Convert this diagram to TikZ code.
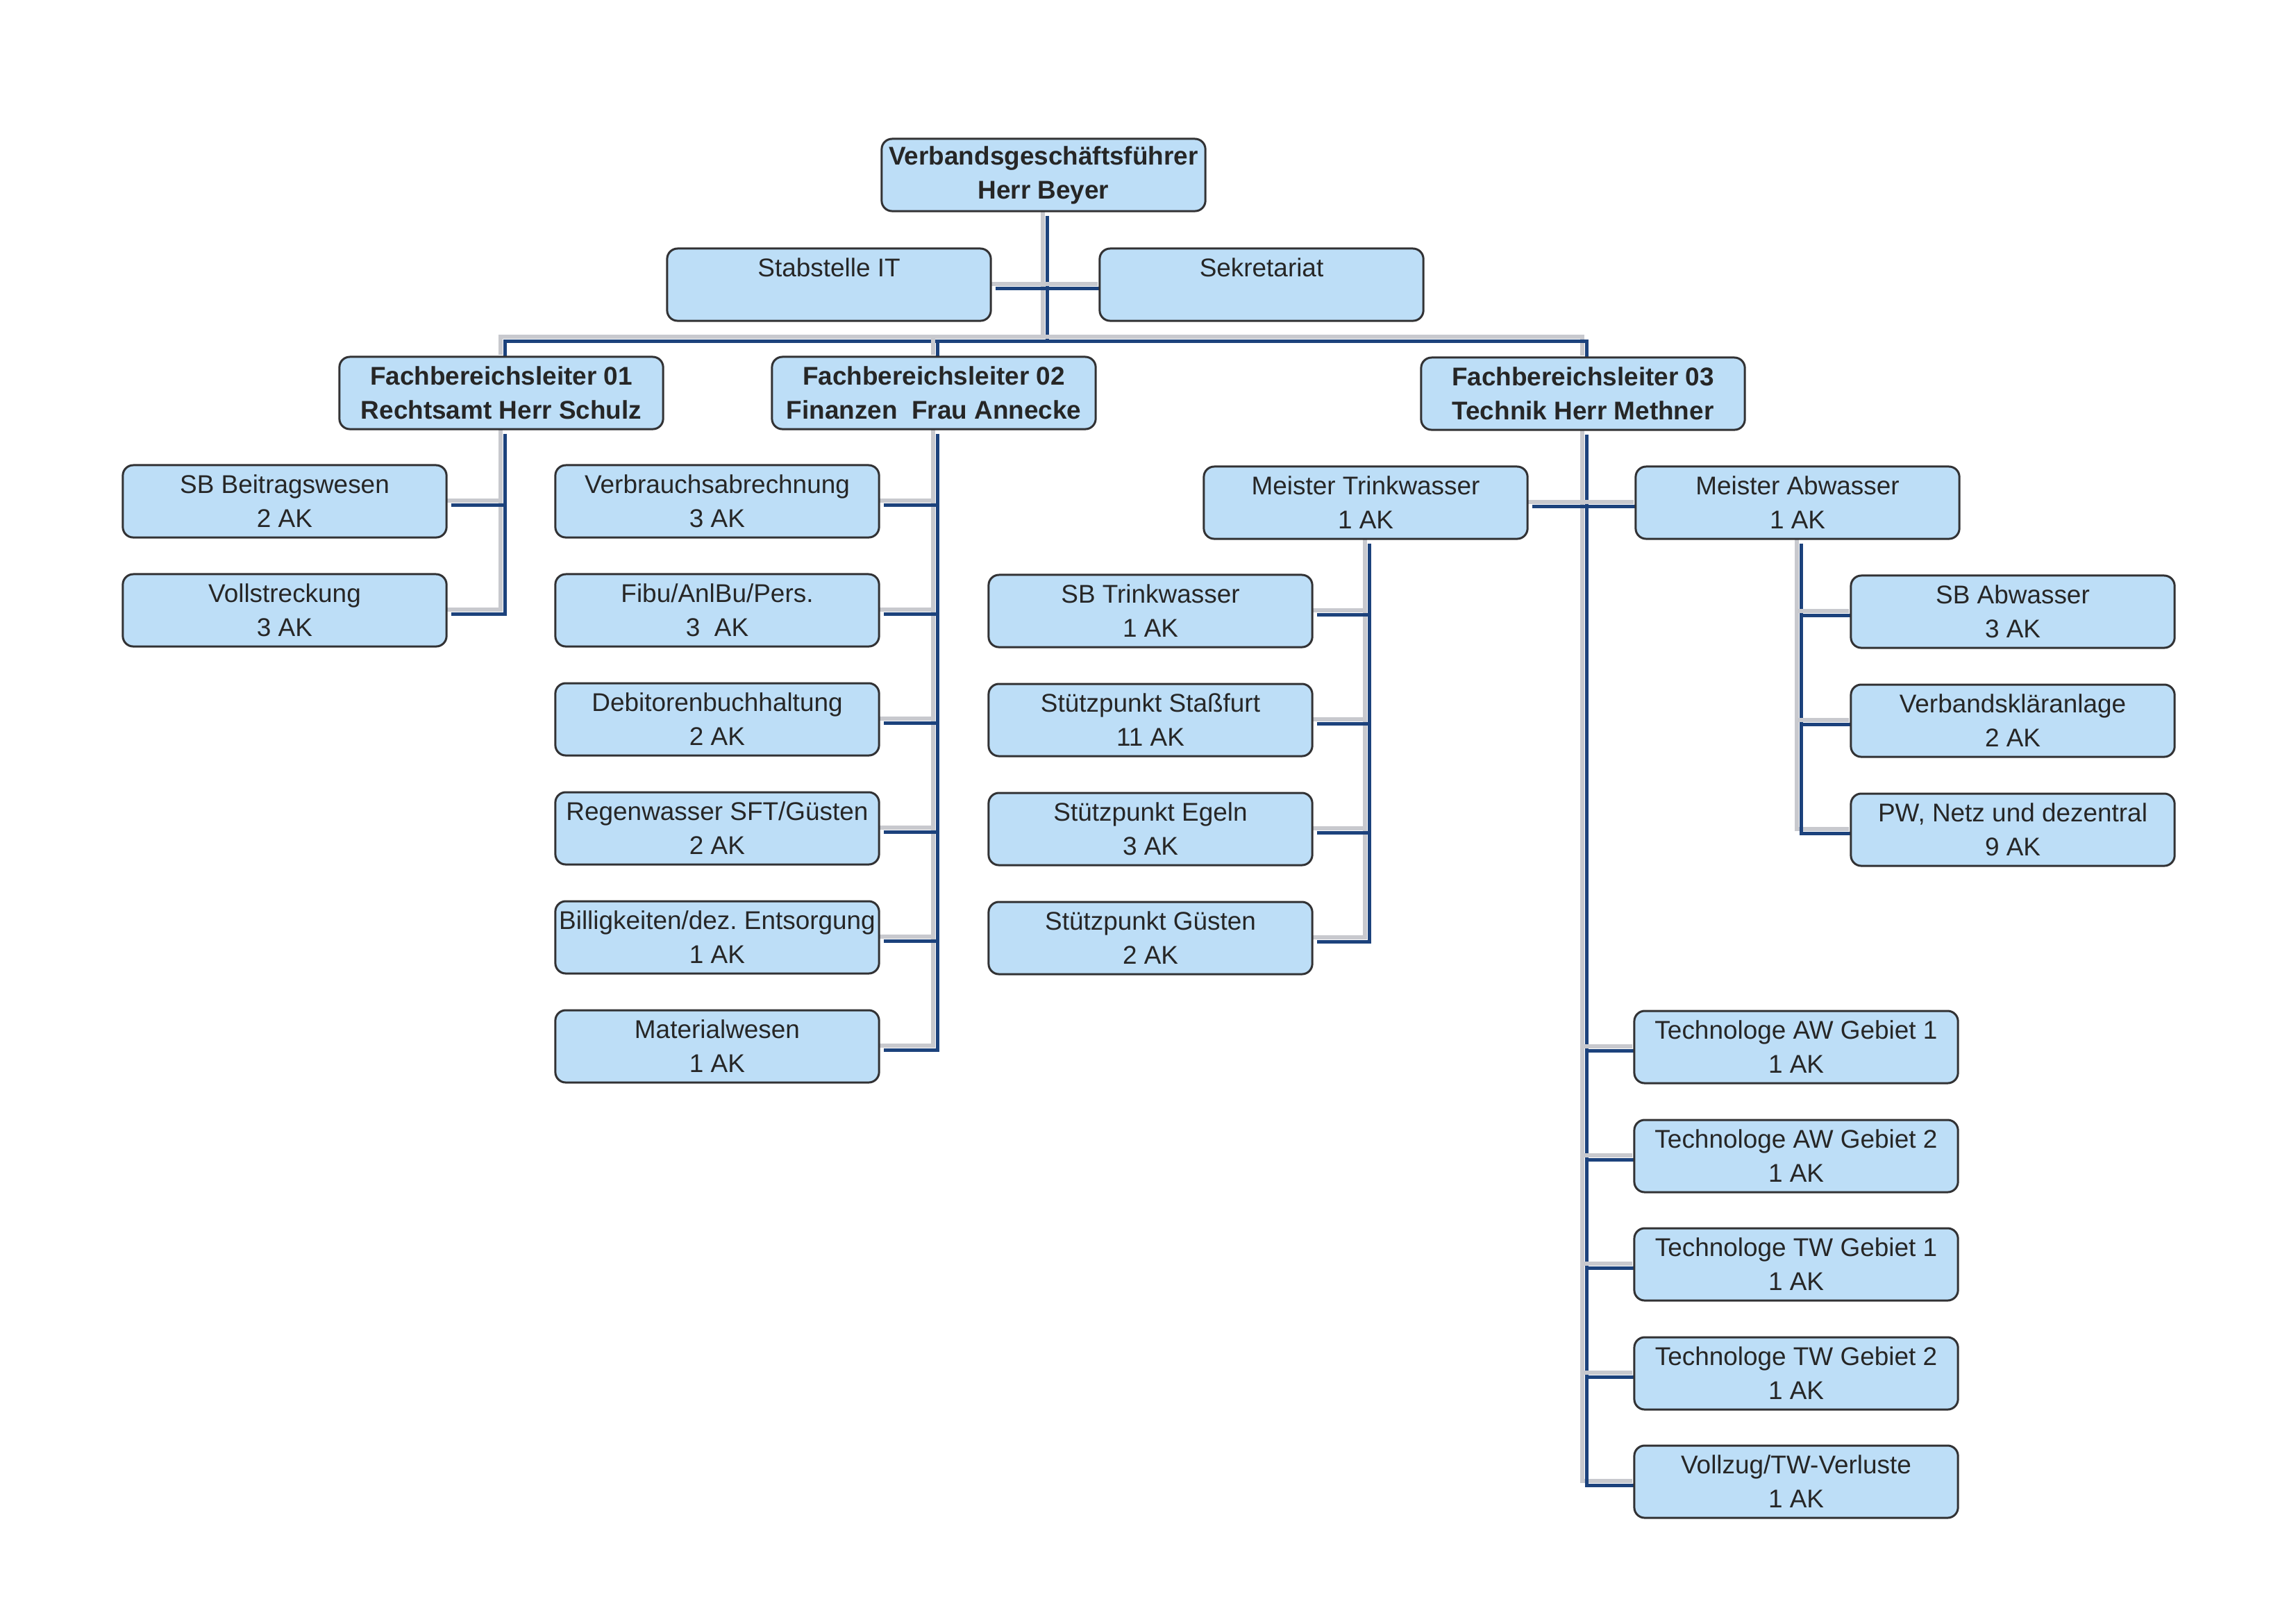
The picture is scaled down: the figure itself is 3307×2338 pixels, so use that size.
\documentclass[tikz,border=0pt]{standalone}
\usepackage{fontspec}
\setmainfont{Liberation Sans}
\frenchspacing
\pgfdeclarelayer{bg}
\pgfsetlayers{bg,main}
\definecolor{boxfill}{RGB}{189,222,247}
\definecolor{boxline}{RGB}{50,50,52}
\definecolor{txt}{RGB}{38,38,38}
\definecolor{connblue}{RGB}{28,66,124}
\definecolor{shadowgrey}{RGB}{200,201,206}
\tikzset{
  box/.style={draw=boxline, line width=0.03cm, fill=boxfill, rounded corners=0.15cm,
    minimum width=4.66cm, minimum height=1.04cm, inner sep=0pt, align=center,
    text=txt, font=\fontsize{10.5}{13.9}\selectfont},
  bbox/.style={box, font=\bfseries\fontsize{10.5}{13.9}\selectfont},
  conn/.style={
    preaction={draw=shadowgrey, line width=0.06cm,
      transform canvas={xshift=-0.01cm, yshift=0.01cm}},
    preaction={draw=connblue, line width=0.05cm,
      transform canvas={xshift=0.05cm, yshift=-0.05cm}}},
}
\begin{document}
\begin{tikzpicture}[x=0.01cm, y=-0.01cm]
\useasboundingbox (0,0) rectangle (3307,2338);
% top
\node[bbox] (vgf) at (1503,252) {Verbandsgeschäftsführer\\Herr Beyer};
\node[box] (stab) at (1194,410) {Stabstelle IT\\\mbox{}};
\node[box] (sek) at (1817,410) {Sekretariat\\\mbox{}};
% department heads
\node[bbox] (fb1) at (722,566) {Fachbereichsleiter 01\\Rechtsamt Herr Schulz};
\node[bbox] (fb2) at (1345,566) {Fachbereichsleiter 02\\Finanzen~~Frau Annecke};
\node[bbox] (fb3) at (2280,567) {Fachbereichsleiter 03\\Technik Herr Methner};
% FB 01
\node[box] (sbb) at (410,722) {SB Beitragswesen\\2 AK};
\node[box] (voll) at (410,879) {Vollstreckung\\3 AK};
% FB 02
\node[box] (verb) at (1033,722) {Verbrauchsabrechnung\\3 AK};
\node[box] (fibu) at (1033,879) {Fibu/AnlBu/Pers.\\3~~AK};
\node[box] (debi) at (1033,1036) {Debitorenbuchhaltung\\2 AK};
\node[box] (regen) at (1033,1193) {Regenwasser SFT/Güsten\\2 AK};
\node[box] (bill) at (1033,1350) {Billigkeiten/dez. Entsorgung\\1 AK};
\node[box] (mat) at (1033,1507) {Materialwesen\\1 AK};
% FB 03
\node[box] (mt) at (1967,724) {Meister Trinkwasser\\1 AK};
\node[box] (ma) at (2589,724) {Meister Abwasser\\1 AK};
\node[box] (sbtw) at (1657,880) {SB Trinkwasser\\1 AK};
\node[box] (stass) at (1657,1037) {Stützpunkt Staßfurt\\11 AK};
\node[box] (egeln) at (1657,1194) {Stützpunkt Egeln\\3 AK};
\node[box] (guesten) at (1657,1351) {Stützpunkt Güsten\\2 AK};
\node[box] (sbaw) at (2899,881) {SB Abwasser\\3 AK};
\node[box] (vka) at (2899,1038) {Verbandskläranlage\\2 AK};
\node[box] (pw) at (2899,1195) {PW, Netz und dezentral\\9 AK};
\node[box] (t1) at (2587,1508) {Technologe AW Gebiet 1\\1 AK};
\node[box] (t2) at (2587,1665) {Technologe AW Gebiet 2\\1 AK};
\node[box] (t3) at (2587,1821) {Technologe TW Gebiet 1\\1 AK};
\node[box] (t4) at (2587,1978) {Technologe TW Gebiet 2\\1 AK};
\node[box] (t5) at (2587,2134) {Vollzug/TW-Verluste\\1 AK};
\coordinate (bar) at (1503,486);
\begin{pgfonlayer}{bg}
  \path[conn] (vgf.south) -- (vgf.south |- bar);
  \path[conn] (stab.east) -- (sek.west);
  \path[conn] (fb1.north) |- (bar) -| (fb3.north);
  \path[conn] (fb2.north) -- (fb2.north |- bar);
  % FB 01
  \path[conn] (fb1.south) |- (voll.east);
  \path[conn] (sbb.east) -- (sbb.east -| fb1.south);
  % FB 02
  \path[conn] (fb2.south) |- (mat.east);
  \foreach \n in {verb,fibu,debi,regen,bill}
    \path[conn] (\n.east) -- (\n.east -| fb2.south);
  % FB 03
  \path[conn] (fb3.south) |- (t5.west);
  \foreach \n in {t1,t2,t3,t4}
    \path[conn] (\n.west) -- (\n.west -| fb3.south);
  \path[conn] (mt.east) -- (ma.west);
  \path[conn] (mt.south) |- (guesten.east);
  \foreach \n in {sbtw,stass,egeln}
    \path[conn] (\n.east) -- (\n.east -| mt.south);
  \path[conn] (ma.south) |- (pw.west);
  \foreach \n in {sbaw,vka}
    \path[conn] (\n.west) -- (\n.west -| ma.south);
\end{pgfonlayer}
\end{tikzpicture}
\end{document}
